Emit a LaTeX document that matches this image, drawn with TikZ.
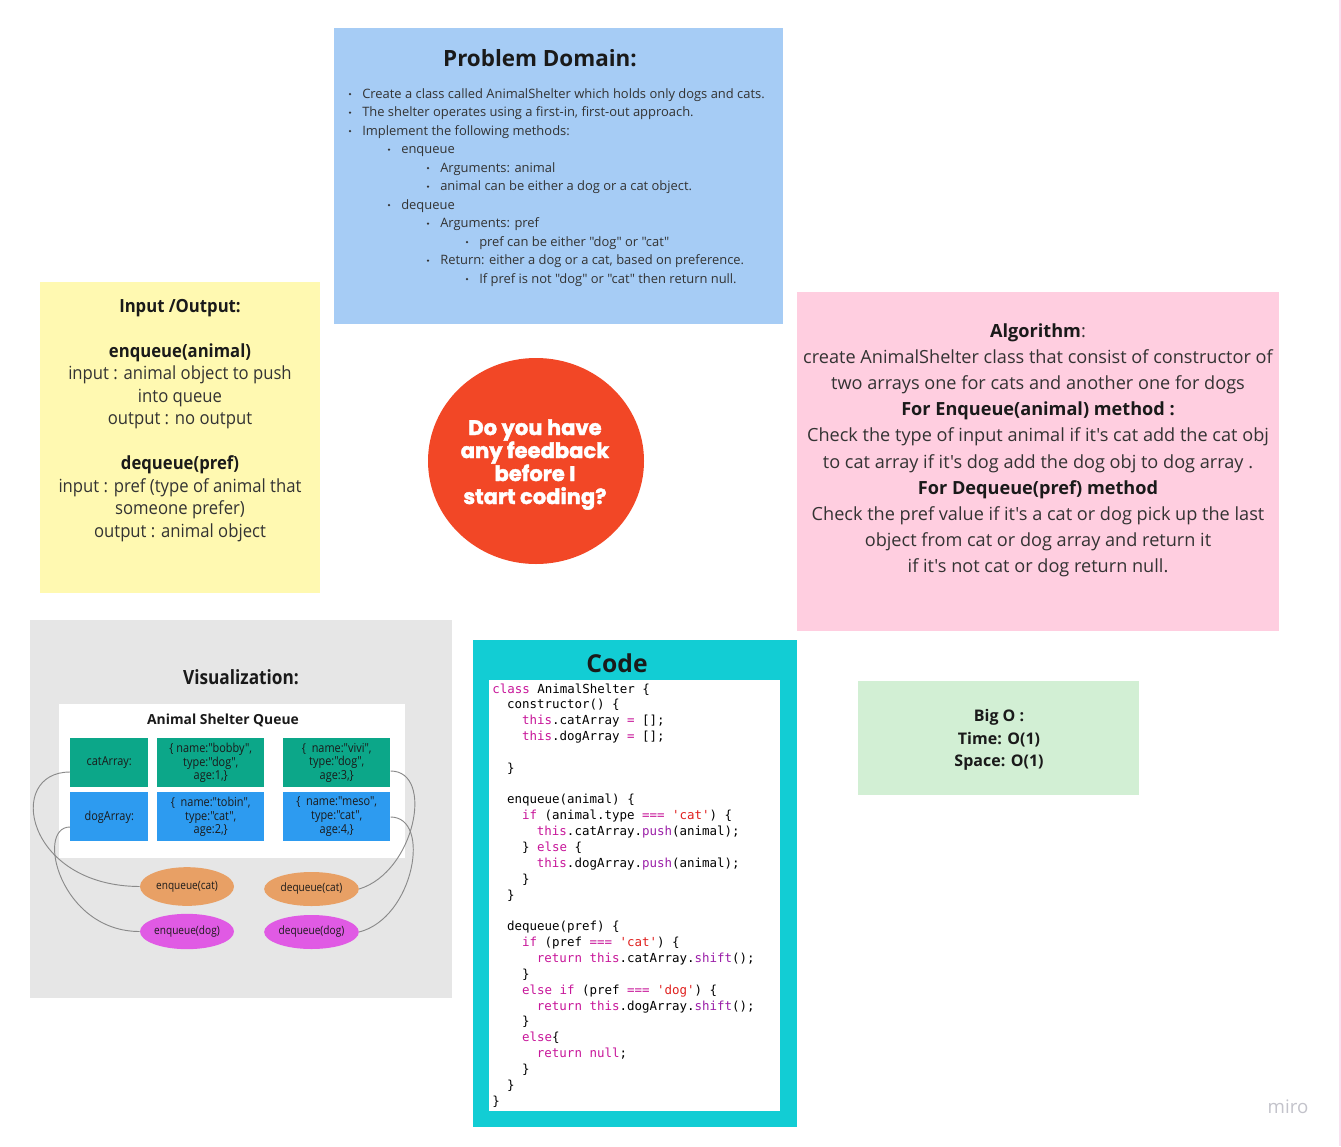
\documentclass[tikz,border=0pt]{standalone}
\usepackage{fontspec}
\newfontfamily\os{Open Sans}
\newfontfamily\osc{Open Sans}[FakeStretch=0.88]
\newfontfamily\osm{Open Sans}[FakeStretch=0.92]
\newfontfamily\heavy{Poppins}[FakeBold=2]
\newfontfamily\cmono{DejaVu Sans Mono}
\usetikzlibrary{shapes.geometric}
\definecolor{pdblue}{HTML}{A6CCF5}
\definecolor{ioyellow}{HTML}{FFF9B1}
\definecolor{algpink}{HTML}{FFCEE0}
\definecolor{visgrey}{HTML}{E6E6E6}
\definecolor{codecyan}{HTML}{12CDD4}
\definecolor{bigogreen}{HTML}{D2EFD4}
\definecolor{qred}{HTML}{F24726}
\definecolor{cellteal}{HTML}{0CA789}
\definecolor{cellblue}{HTML}{2D9BF0}
\definecolor{ellorange}{HTML}{E8A065}
\definecolor{ellmagenta}{HTML}{E05AE4}
\definecolor{txtdark}{HTML}{1A1A1A}
\definecolor{txtbody}{HTML}{333333}
\definecolor{ckwc}{HTML}{C8179A}
\definecolor{cfnc}{HTML}{9B1FA8}
\definecolor{cstrc}{HTML}{E0201E}
\definecolor{edgegrey}{HTML}{8A8A8A}
\definecolor{mirogrey}{HTML}{C3C3CB}
\definecolor{edgepink}{HTML}{F9E2F1}
\newcommand\ckw[1]{\textcolor{ckwc}{#1}}
\newcommand\cfn[1]{\textcolor{cfnc}{#1}}
\newcommand\cstr[1]{\textcolor{cstrc}{#1}}
\tikzset{
  lbl/.style={inner sep=0, anchor=base, text=txtdark},
  pdtxt/.style={inner sep=0, anchor=base west, text=txtbody, font=\os\fontsize{9.7}{11}\selectfont},
  pdbul/.style={fill=txtbody, draw=none},
  iotxt/.style={inner sep=0, anchor=base, text=txtbody, font=\osm\fontsize{13.6}{15}\selectfont},
  iobold/.style={iotxt, text=txtdark, font=\osm\bfseries\fontsize{13.6}{15}\selectfont},
  algtxt/.style={inner sep=0, anchor=base, text=txtbody, font=\os\fontsize{13.6}{15}\selectfont},
  algbold/.style={algtxt, text=txtdark, font=\os\bfseries\fontsize{13.6}{15}\selectfont},
  qtxt/.style={inner sep=0, anchor=base, text=white, font=\heavy\bfseries\fontsize{15.8}{17}\selectfont},
  cell/.style={inner sep=0, anchor=north west, text=txtdark},
  celltxt/.style={inner sep=0, align=center, text=txtdark, font=\osc\fontsize{9.3}{10.3}\selectfont},
  ell/.style={ellipse, inner sep=0, text=txtdark, font=\osc\fontsize{8.6}{10}\selectfont},
  link/.style={draw=edgegrey, line width=0.7pt},
  code/.style={inner sep=0, anchor=base west, text=black, font=\cmono\fontsize{9.35}{11}\selectfont},
  bigo/.style={inner sep=0, anchor=base, text=txtdark, font=\os\bfseries\fontsize{12}{14}\selectfont},
}
\newcommand\codeln[3]{\node[code] (c#1) at ({492+7.45*#2},{693+15.85*(#1-1)}) {#3};}
\begin{document}
\begin{tikzpicture}[x=0.75pt,y=-0.75pt]
\useasboundingbox (0,0) rectangle (1341,1146);
\fill[white] (0,0) rectangle (1341,1146);
\draw[edgepink, line width=1pt] (1340,0) -- (1340,1146);

% Problem domain
\fill[pdblue] (334,28) rectangle (783,324);
\node[lbl, font=\os\bfseries\fontsize{16.8}{19}\selectfont] (pdtitle) at (540,66) {Problem Domain:};
\foreach \bx/\tx/\yy/\name/\t in {
 350/362/98/p1/{Create a class called AnimalShelter which holds only dogs and cats.},
 350/362/116.5/p2/{The shelter operates using a first-in, first-out approach.},
 350/362/135/p3/{Implement the following methods:},
 389/401/153.5/p4/{enqueue},
 428/440/172/p5/{Arguments: animal},
 428/440/190.5/p6/{animal can be either a dog or a cat object.},
 389/401/209/p7/{dequeue},
 428/440/227.5/p8/{Arguments: pref},
 467/479/246/p9/{pref can be either "dog" or "cat"},
 428/440/264.5/p10/{Return: either a dog or a cat, based on preference.},
 467/479/283/p11/{If pref is not "dog" or "cat" then return null.}}{
  \fill[pdbul] (\bx,\yy-3.8) circle (1.25);
  \node[pdtxt] (\name) at (\tx,\yy) {\t};
}

% Input / Output
\fill[ioyellow] (40,282) rectangle (320,593);
\node[iobold] (io1) at (180,312) {Input /Output:};
\node[iobold] (io2) at (180,357) {enqueue(animal)};
\node[iotxt] (io3) at (180,379.5) {input : animal object to push};
\node[iotxt] (io4) at (180,402) {into queue};
\node[iotxt] (io5) at (180,424.5) {output : no output};
\node[iobold] (io6) at (180,469.5) {dequeue(pref)};
\node[iotxt] (io7) at (180,492) {input : pref (type of animal that};
\node[iotxt] (io8) at (180,514.5) {someone prefer)};
\node[iotxt] (io9) at (180,537) {output : animal object};

% Question circle
\fill[qred] (536,461) ellipse [x radius=108, y radius=103];
\node[qtxt] (q1) at (535,435) {Do you have};
\node[qtxt] (q2) at (535,458) {any feedback};
\node[qtxt] (q3) at (535,481) {before I};
\node[qtxt] (q4) at (535,504) {start coding?};

% Algorithm
\fill[algpink] (797,292) rectangle (1279,631);
\node[algtxt] (a1) at (1038,337) {{\bfseries\color{txtdark}Algorithm}:};
\node[algtxt] (a2) at (1038,363.5) {create AnimalShelter class that consist of constructor of};
\node[algtxt] (a3) at (1038,389.5) {two arrays one for cats and another one for dogs};
\node[algbold] (a4) at (1038,415.5) {For Enqueue(animal) method :};
\node[algtxt] (a5) at (1038,441.5) {Check the type of input animal if it's cat add the cat obj};
\node[algtxt] (a6) at (1038,468) {to cat array if it's dog add the dog obj to dog array .};
\node[algbold] (a7) at (1038,494) {For Dequeue(pref) method};
\node[algtxt] (a8) at (1038,520) {Check the pref value if it's a cat or dog pick up the last};
\node[algtxt] (a9) at (1038,546) {object from cat or dog array and return it};
\node[algtxt] (a10) at (1038,572) {if it's not cat or dog return null.};

% Visualization
\fill[visgrey] (30,620) rectangle (452,998);
\node[lbl, font=\osc\bfseries\fontsize{14.7}{16}\selectfont] (vtitle) at (241,684) {Visualization:};
\fill[white] (59,704) rectangle (405,858);
\node[lbl, font=\os\bfseries\fontsize{10.4}{12}\selectfont, text=txtdark] (qtitle) at (223,724) {Animal Shelter Queue};
\node[cell, fill=cellteal, minimum width=58.5pt, minimum height=36.75pt] (catA) at (70,738) {};
\node[cell, fill=cellteal, minimum width=80.25pt, minimum height=36.75pt] (bobby) at (157,738) {};
\node[cell, fill=cellteal, minimum width=80.25pt, minimum height=36.75pt] (vivi) at (283,738) {};
\node[cell, fill=cellblue, minimum width=58.5pt, minimum height=36.75pt] (dogA) at (70,792) {};
\node[cell, fill=cellblue, minimum width=80.25pt, minimum height=36.75pt] (tobin) at (157,792) {};
\node[cell, fill=cellblue, minimum width=80.25pt, minimum height=36.75pt] (meso) at (283,792) {};
\node[celltxt] (catAt) at (catA.center) {catArray:};
\node[celltxt] (dogAt) at (dogA.center) {dogArray:};
\node[celltxt] (bobbyt) at (bobby.center) {\{ name:"bobby",\\ type:"dog",\\ age:1,\}};
\node[celltxt] (vivit) at (vivi.center) {\{ \ name:"vivi",\\ type:"dog",\\ age:3,\}};
\node[celltxt] (tobint) at (tobin.center) {\{ \ name:"tobin",\\ type:"cat",\\ age:2,\}};
\node[celltxt] (mesot) at (meso.center) {\{ \ name:"meso",\\ type:"cat",\\ age:4,\}};
\node[ell, fill=ellorange, minimum width=70.5pt, minimum height=29pt] (enqc) at (187,886.5) {enqueue(cat)};
\node[ell, fill=ellorange, minimum width=71pt, minimum height=25.5pt] (deqc) at (311.5,889) {dequeue(cat)};
\node[ell, fill=ellmagenta, minimum width=70.5pt, minimum height=26.5pt] (enqd) at (187,931.5) {enqueue(dog)};
\node[ell, fill=ellmagenta, minimum width=71pt, minimum height=25.5pt] (deqd) at (311.5,932) {dequeue(dog)};
\draw[link] (catA.west |- 0,772) .. controls (5,772) and (25,886) .. (enqc.west);
\draw[link] (dogA.west |- 0,827) .. controls (35,827) and (60,931.5) .. (enqd.west);
\draw[link] (vivi.east |- 0,771) .. controls (435,771) and (415,872) .. (deqc.east);
\draw[link] (meso.east |- 0,817) .. controls (432,817) and (414,918) .. (deqd.east);

% Code
\fill[codecyan] (473,640) rectangle (797,1127);
\fill[white] (489,680) rectangle (780,1111);
\node[lbl, font=\os\bfseries\fontsize{18.5}{20}\selectfont] (ctitle) at (617,672) {Code};
\codeln{1}{0}{\ckw{class} AnimalShelter \{}
\codeln{2}{2}{constructor() \{}
\codeln{3}{4}{\ckw{this}.catArray \ckw{=} [];}
\codeln{4}{4}{\ckw{this}.dogArray \ckw{=} [];}
\codeln{6}{2}{\}}
\codeln{8}{2}{enqueue(animal) \{}
\codeln{9}{4}{\ckw{if} (animal.type \ckw{===} \cstr{'cat'}) \{}
\codeln{10}{6}{\ckw{this}.catArray.\cfn{push}(animal);}
\codeln{11}{4}{\} \ckw{else} \{}
\codeln{12}{6}{\ckw{this}.dogArray.\cfn{push}(animal);}
\codeln{13}{4}{\}}
\codeln{14}{2}{\}}
\codeln{16}{2}{dequeue(pref) \{}
\codeln{17}{4}{\ckw{if} (pref \ckw{===} \cstr{'cat'}) \{}
\codeln{18}{6}{\ckw{return} \ckw{this}.catArray.\cfn{shift}();}
\codeln{19}{4}{\}}
\codeln{20}{4}{\ckw{else} \ckw{if} (pref \ckw{===} \cstr{'dog'}) \{}
\codeln{21}{6}{\ckw{return} \ckw{this}.dogArray.\cfn{shift}();}
\codeln{22}{4}{\}}
\codeln{23}{4}{\ckw{else}\{}
\codeln{24}{6}{\ckw{return} \ckw{null};}
\codeln{25}{4}{\}}
\codeln{26}{2}{\}}
\codeln{27}{0}{\}}

% Big O
\fill[bigogreen] (858,681) rectangle (1139,795);
\node[bigo] (b1) at (999,721) {Big O :};
\node[bigo] (b2) at (999,744) {Time: O(1)};
\node[bigo] (b3) at (999,766.5) {Space: O(1)};

% miro
\node[inner sep=0, anchor=base, text=mirogrey, font=\os\fontsize{14}{16}\selectfont] (miro) at (1288,1113) {miro};
\end{tikzpicture}
\end{document}
